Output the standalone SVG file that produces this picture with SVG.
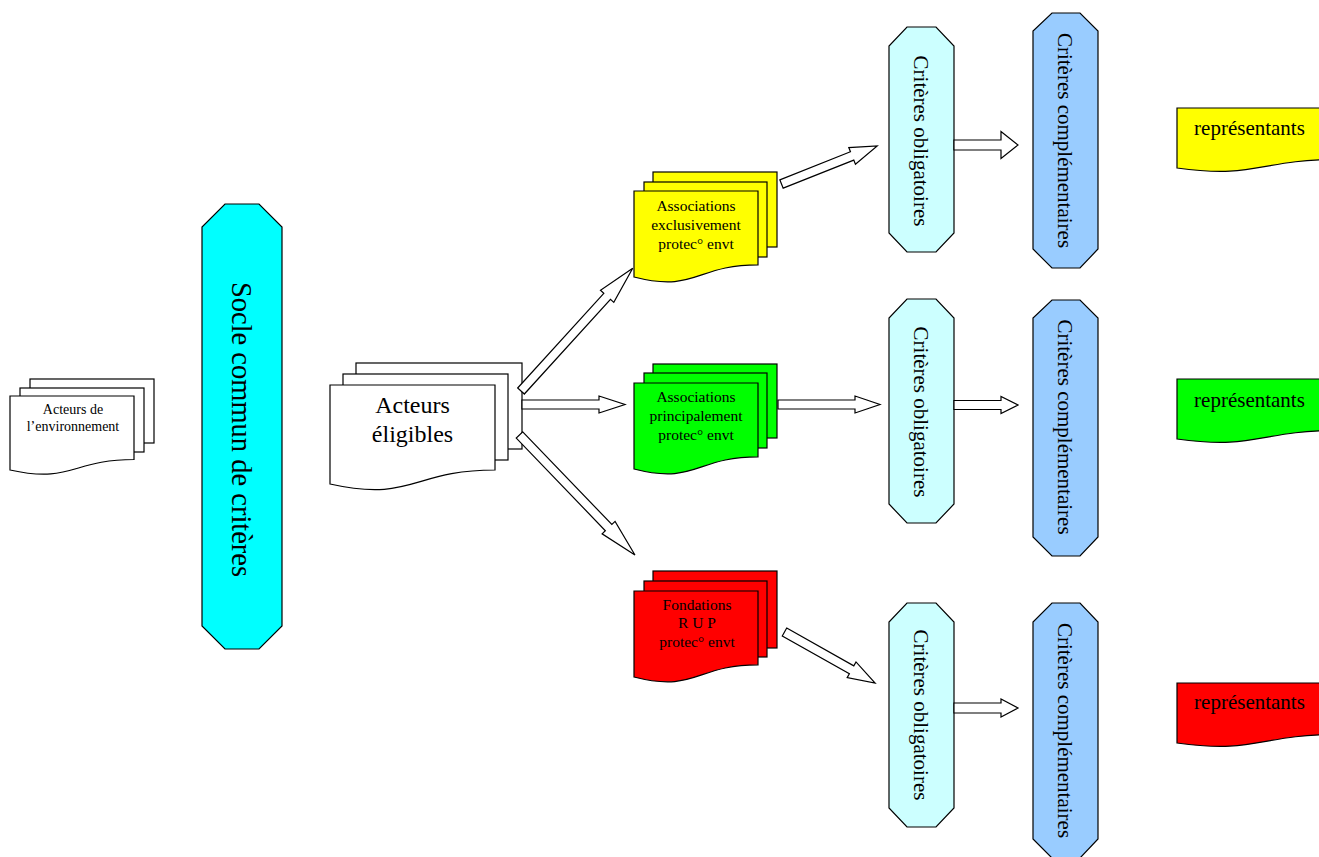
<svg xmlns="http://www.w3.org/2000/svg" width="1319" height="857" viewBox="0 0 1319 857">
<style>
.s{stroke:#000;stroke-width:1.2;stroke-linejoin:miter}
.w{fill:#fff}
.cy{fill:#00ffff}
.ob{fill:#ccffff}
.cp{fill:#99ccff}
.ye{fill:#ffff00}
.gr{fill:#00ff00}
.rd{fill:#ff0000}
text{font-family:"Liberation Serif","Times New Roman",serif;fill:#000}
.t14{font-size:14px;text-anchor:middle}
.t15{font-size:15.5px;text-anchor:middle}
.t21{font-size:21px;text-anchor:middle}
.t24{font-size:24px;text-anchor:middle}
.t28{font-size:28.5px;text-anchor:middle}
.ar{fill:#fff;stroke:#000;stroke-width:1.2}
</style>
<rect width="1319" height="857" fill="#fff"/>

<g id="acteurs-env">
<rect class="s w" x="30" y="379" width="124" height="64"/>
<rect class="s w" x="20" y="388" width="124" height="64"/>
<path class="s w" d="M10,396 H134 V459.5 C72,459.5 72,483.7 10,470 Z"/>
<text class="t14" x="73" y="414">Acteurs de</text>
<text class="t14" x="73" y="431">l’environnement</text>
</g>

<g id="socle">
<path class="s cy" d="M225,204 H259 L282,227 V626 L259,649 H225 L202,626 V227 Z"/>
<text class="t28" transform="translate(232,429.5) rotate(90)">Socle commun de critères</text>
</g>

<g id="acteurs-eligibles">
<rect class="s w" x="356" y="363" width="166" height="86"/>
<rect class="s w" x="343" y="374" width="165" height="86"/>
<path class="s w" d="M330,385 H495 V470 C412.5,470 412.5,502.4 330,484 Z"/>
<text class="t24" x="412.5" y="413">Acteurs</text>
<text class="t24" x="412.5" y="442">éligibles</text>
</g>

<g id="assoc-exclusivement">
<rect class="s ye" x="653" y="172" width="124" height="75"/>
<rect class="s ye" x="644" y="182" width="123" height="75"/>
<path class="s ye" d="M634,191 H758 V264.8 C696,264.8 696,292.9 634,277 Z"/>
<text class="t15" x="696" y="211">Associations</text>
<text class="t15" x="696" y="230">exclusivement</text>
<text class="t15" x="696" y="249">protec° envt</text>
</g>

<g id="assoc-principalement">
<rect class="s gr" x="653" y="364" width="124" height="74"/>
<rect class="s gr" x="644" y="373" width="123" height="75"/>
<path class="s gr" d="M634,383 H758 V456.8 C696,456.8 696,484.9 634,469 Z"/>
<text class="t15" x="696" y="402">Associations</text>
<text class="t15" x="696" y="421">principalement</text>
<text class="t15" x="696" y="440">protec° envt</text>
</g>

<g id="fondations">
<rect class="s rd" x="653" y="571" width="124" height="77"/>
<rect class="s rd" x="644" y="581" width="123" height="76"/>
<path class="s rd" d="M634,591 H758 V664.8 C696,664.8 696,692.9 634,677 Z"/>
<text class="t15" x="697" y="610">Fondations</text>
<text class="t15" x="697" y="628">R U P</text>
<text class="t15" x="697" y="647">protec° envt</text>
</g>

<g id="oblig-1">
<path class="s ob" d="M907,27 H936 L954,46 V233 L936,252 H907 L889,233 V46 Z"/>
<text class="t21" transform="translate(914,141) rotate(90)">Critères obligatoires</text>
</g>
<g id="oblig-2">
<path class="s ob" d="M907,299 H936 L954,318 V504 L936,523 H907 L889,504 V318 Z"/>
<text class="t21" transform="translate(914,412) rotate(90)">Critères obligatoires</text>
</g>
<g id="oblig-3">
<path class="s ob" d="M907,603 H936 L954,622 V808 L936,827 H907 L889,808 V622 Z"/>
<text class="t21" transform="translate(914,715) rotate(90)">Critères obligatoires</text>
</g>

<g id="compl-1">
<path class="s cp" d="M1052,13 H1080 L1098,31 V249 L1080,268 H1052 L1033,249 V31 Z"/>
<text class="t21" transform="translate(1058,140.5) rotate(90)">Critères complémentaires</text>
</g>
<g id="compl-2">
<path class="s cp" d="M1052,300 H1080 L1098,318 V537 L1080,556 H1052 L1033,537 V318 Z"/>
<text class="t21" transform="translate(1058,427) rotate(90)">Critères complémentaires</text>
</g>
<g id="compl-3">
<path class="s cp" d="M1052,603 H1080 L1098,622 V839 L1080,858 H1052 L1033,839 V622 Z"/>
<text class="t21" transform="translate(1058,730.5) rotate(90)">Critères complémentaires</text>
</g>

<g id="representants-1">
<path class="s ye" d="M1177,108 H1338 V159.5 C1257.5,159.5 1257.5,179.1 1177,168 Z"/>
<text class="t21" x="1249.5" y="135">représentants</text>
</g>
<g id="representants-2">
<path class="s gr" d="M1177,379 H1338 V430.5 C1257.5,430.5 1257.5,450.1 1177,439 Z"/>
<text class="t21" x="1249.5" y="407">représentants</text>
</g>
<g id="representants-3">
<path class="s rd" d="M1177,683 H1338 V734.5 C1257.5,734.5 1257.5,754.1 1177,743 Z"/>
<text class="t21" x="1249.5" y="709">représentants</text>
</g>

<g id="connectors">
<polygon class="ar" transform="translate(521,391) rotate(-47.7)" points="0,-4.5 128,-4.5 128,-9 166,0 128,9 128,4.5 0,4.5"/>
<polygon class="ar" transform="translate(522,404.5)" points="0,-4.5 77,-4.5 77,-8.5 103,0 77,8.5 77,4.5 0,4.5"/>
<polygon class="ar" transform="translate(519.5,435) rotate(46.1)" points="0,-4.5 128.5,-4.5 128.5,-9 166.5,0 128.5,9 128.5,4.5 0,4.5"/>
<polygon class="ar" transform="translate(781.5,184) rotate(-21.7)" points="0,-4.5 76,-4.5 76,-9 103,0 76,9 76,4.5 0,4.5"/>
<polygon class="ar" transform="translate(778,404.5)" points="0,-4.5 77,-4.5 77,-8.5 102,0 77,8.5 77,4.5 0,4.5"/>
<polygon class="ar" transform="translate(784.5,632) rotate(29.4)" points="0,-4.5 77,-4.5 77,-9 104,0 77,9 77,4.5 0,4.5"/>
<polygon class="ar" transform="translate(954,145)" points="0,-5 47,-5 47,-13.5 64,0 47,13.5 47,5 0,5"/>
<polygon class="ar" transform="translate(954,405)" points="0,-4.5 47,-4.5 47,-8.5 64,0 47,8.5 47,4.5 0,4.5"/>
<polygon class="ar" transform="translate(954,708)" points="0,-5 47,-5 47,-9 64,0 47,9 47,5 0,5"/>
</g>
</svg>
